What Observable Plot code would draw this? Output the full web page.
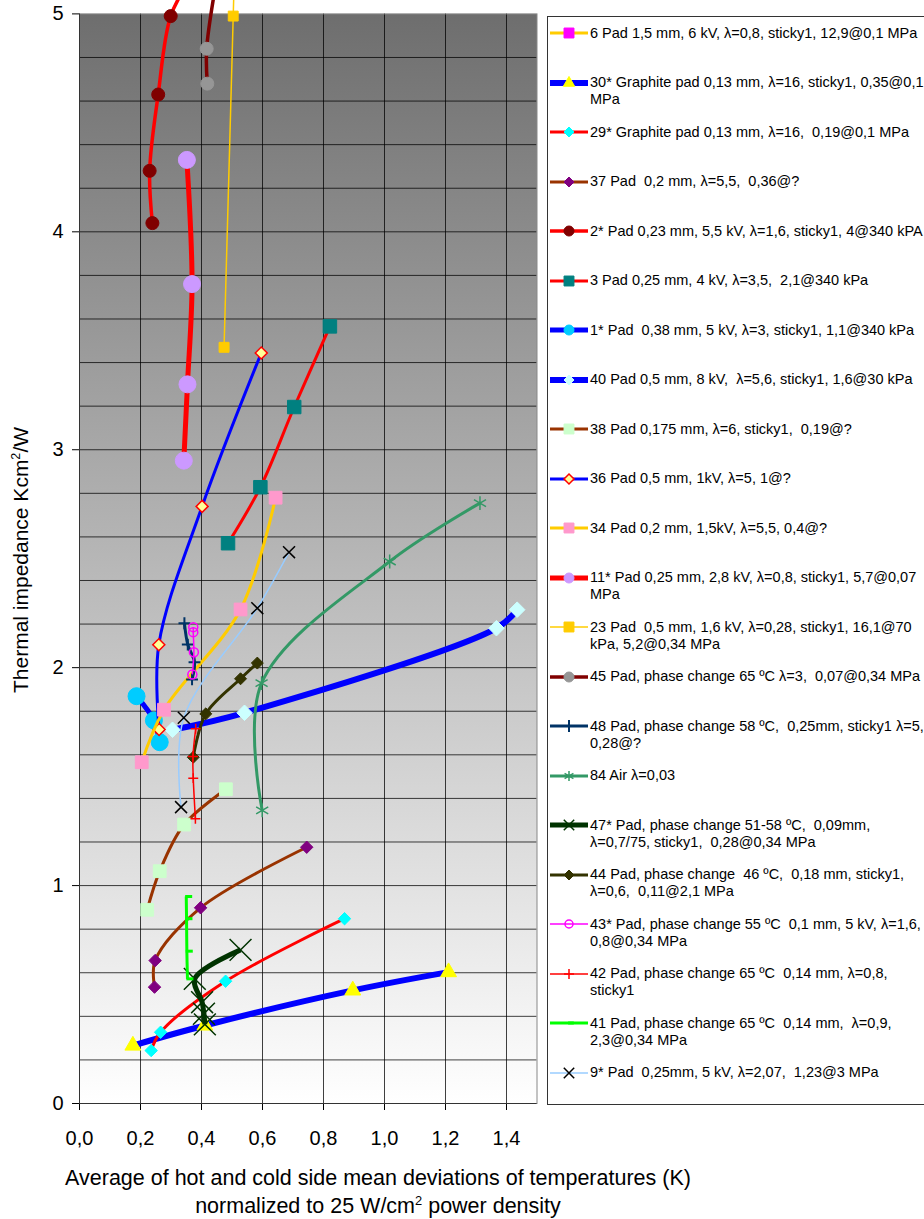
<!DOCTYPE html>
<html>
<head>
<meta charset="utf-8">
<script src="https://cdn.jsdelivr.net/npm/d3@7"></script>
<script src="https://cdn.jsdelivr.net/npm/@observablehq/plot@0.6"></script>
<style>
  body { margin: 0; background: #fff; font-family: "Liberation Sans", Arial, sans-serif; }
  #chart { position: relative; width: 924px; height: 1219px; overflow: hidden; background: #fff; }
  #plot { position: absolute; left: 0; top: 0; }
  .sup { font-size: 0.6em; vertical-align: 0.65em; line-height: 0; }
  #ytitle { position: absolute; left: 21px; top: 560px; transform: translate(-50%, -50%) rotate(-90deg);
            white-space: nowrap; font-size: 21px; color: #000; }
  #xtitle { position: absolute; left: 378px; top: 1164px; transform: translateX(-50%); text-align: center;
            font-size: 21.5px; line-height: 28px; white-space: nowrap; color: #000; }
  #legendbox { position: absolute; left: 547px; top: 16px; width: 400px; height: 1089px;
               border: 1.5px solid #333; box-sizing: border-box; }
  .ltext { position: absolute; left: 590px; font-size: 14.5px; line-height: 17px; white-space: pre; color: #000; }
  .lsw { position: absolute; left: 547px; }
</style>
</head>
<body>
<div id="chart">
  <div id="plot"></div>
  <div id="ytitle">Thermal impedance Kcm<span class="sup">2</span>/W</div>
  <div id="xtitle">Average of hot and cold side mean deviations of temperatures (K)<br>normalized to 25 W/cm<span class="sup">2</span> power density</div>
  <div id="legendbox"></div>
</div>
<script>
// Axis ticks and grid positions
const xTicks = [0, 0.2, 0.4, 0.6, 0.8, 1.0, 1.2, 1.4];
const yTicks = [0, 1, 2, 3, 4, 5];
const xGrid = [0.2, 0.4, 0.6, 0.8, 1.0, 1.2, 1.4];
const yGrid = [0.2, 0.4, 0.6, 0.8, 1.0, 1.2, 1.4, 1.6, 1.8, 2.0, 2.2, 2.4, 2.6, 2.8,
               3.0, 3.2, 3.4, 3.6, 3.8, 4.0, 4.2, 4.4, 4.6, 4.8];

// Measured series: x = temperature deviation (K), y = thermal impedance (Kcm²/W)
// Series 6 lies entirely above the 0–5 range shown.
const pad6X = [];                                   const pad6Y = [];
const pad30X = [0.175, 0.411, 0.896, 1.210];        const pad30Y = [0.266, 0.358, 0.519, 0.603];
const pad29X = [0.235, 0.266, 0.479, 0.869];        const pad29Y = [0.243, 0.327, 0.561, 0.848];
const pad37X = [0.246, 0.248, 0.397, 0.745];        const pad37Y = [0.534, 0.656, 0.898, 1.176];
const pad2X  = [0.239, 0.230, 0.258, 0.299, 0.360]; const pad2Y  = [4.04, 4.28, 4.63, 4.99, 5.15];
const pad3X  = [0.487, 0.593, 0.704, 0.821];        const pad3Y  = [2.571, 2.828, 3.196, 3.566];
const pad1X  = [0.187, 0.244, 0.263];               const pad1Y  = [1.869, 1.758, 1.658];
const pad40X = [0.305, 0.541, 1.367, 1.435];        const pad40Y = [1.715, 1.793, 2.181, 2.266];
const pad38X = [0.222, 0.263, 0.343, 0.480];        const pad38Y = [0.889, 1.066, 1.280, 1.442];
const pad36X = [0.261, 0.260, 0.402, 0.596];        const pad36Y = [1.716, 2.105, 2.740, 3.444];
const pad34X = [0.204, 0.277, 0.528, 0.643];        const pad34Y = [1.566, 1.807, 2.267, 2.780];
const pad11X = [0.352, 0.369, 0.354, 0.342];        const pad11Y = [4.33, 3.76, 3.30, 2.95];
const pad23X = [0.474, 0.504, 0.508];               const pad23Y = [3.47, 4.99, 5.20];
const pad45X = [0.419, 0.417, 0.455];               const pad45Y = [4.68, 4.84, 5.20];
const pad48X = [0.344, 0.355, 0.377, 0.369];        const pad48Y = [2.204, 2.106, 2.025, 1.946];
const air84X = [0.599, 0.597, 1.017, 1.313];        const air84Y = [1.345, 1.929, 2.487, 2.755];
const pad47X = [0.528, 0.378, 0.402, 0.408, 0.411]; const pad47Y = [0.705, 0.572, 0.465, 0.412, 0.363];
const pad44X = [0.373, 0.414, 0.528, 0.583];        const pad44Y = [1.589, 1.788, 1.949, 2.021];
const pad43X = [0.373, 0.373, 0.375, 0.370];        const pad43Y = [2.186, 2.163, 2.071, 1.969];
const pad42X = [0.380, 0.373, 0.372, 0.381];        const pad42Y = [1.307, 1.493, 1.592, 1.720];
const pad41X = [0.350, 0.351, 0.352, 0.354];        const pad41Y = [0.950, 0.848, 0.699, 0.572];
const pad9X  = [0.333, 0.342, 0.583, 0.687];        const pad9Y  = [1.360, 1.770, 2.273, 2.530];

// Legend texts (one entry per series, line breaks as laid out)
const legendLabels = [
  "6 Pad 1,5 mm, 6 kV, λ=0,8, sticky1, 12,9@0,1 MPa",
  "30* Graphite pad 0,13 mm, λ=16, sticky1, 0,35@0,1\nMPa",
  "29* Graphite pad 0,13 mm, λ=16,  0,19@0,1 MPa",
  "37 Pad  0,2 mm, λ=5,5,  0,36@?",
  "2* Pad 0,23 mm, 5,5 kV, λ=1,6, sticky1, 4@340 kPA",
  "3 Pad 0,25 mm, 4 kV, λ=3,5,  2,1@340 kPa",
  "1* Pad  0,38 mm, 5 kV, λ=3, sticky1, 1,1@340 kPa",
  "40 Pad 0,5 mm, 8 kV,  λ=5,6, sticky1, 1,6@30 kPa",
  "38 Pad 0,175 mm, λ=6, sticky1,  0,19@?",
  "36 Pad 0,5 mm, 1kV, λ=5, 1@?",
  "34 Pad 0,2 mm, 1,5kV, λ=5,5, 0,4@?",
  "11* Pad 0,25 mm, 2,8 kV, λ=0,8, sticky1, 5,7@0,07\nMPa",
  "23 Pad  0,5 mm, 1,6 kV, λ=0,28, sticky1, 16,1@70\nkPa, 5,2@0,34 MPa",
  "45 Pad, phase change 65 ºC λ=3,  0,07@0,34 MPa",
  "48 Pad, phase change 58 ºC,  0,25mm, sticky1 λ=5,\n0,28@?",
  "84 Air λ=0,03",
  "47* Pad, phase change 51-58 ºC,  0,09mm,\nλ=0,7/75, sticky1,  0,28@0,34 MPa",
  "44 Pad, phase change  46 ºC,  0,18 mm, sticky1,\nλ=0,6,  0,11@2,1 MPa",
  "43* Pad, phase change 55 ºC  0,1 mm, 5 kV, λ=1,6,\n0,8@0,34 MPa",
  "42 Pad, phase change 65 ºC  0,14 mm, λ=0,8,\nsticky1",
  "41 Pad, phase change 65 ºC  0,14 mm,  λ=0,9,\n2,3@0,34 MPa",
  "9* Pad  0,25mm, 5 kV, λ=2,07,  1,23@3 MPa"
];

// Short horizontal dash marker
const dashSymbol = {
  draw(ctx, size) {
    const r = Math.sqrt(size / Math.PI);
    ctx.moveTo(-0.3 * r, 0);
    ctx.lineTo(1.6 * r, 0);
  }
};

// Line and marker styles, in drawing order
const styles = [
  {xs: pad6X,  ys: pad6Y,  line: "#ffcc00", lw: 3,   symbol: "square",   r: 6,    lr: 5.6, fill: "#ff00ff", stroke: "#ff00ff", sw: 1},
  {xs: pad30X, ys: pad30Y, line: "#0000ff", lw: 6,   symbol: "triangle", r: 5.9,  lr: 4.2, fill: "#ffff00", stroke: "#ffff00", sw: 1},
  {xs: pad29X, ys: pad29Y, line: "#ff0000", lw: 3,   symbol: "diamond2", r: 5.6,  lr: 4.5, fill: "#00ffff", stroke: "#00ffff", sw: 1},
  {xs: pad37X, ys: pad37Y, line: "#993300", lw: 3,   symbol: "diamond2", r: 5.6,  lr: 4.5, fill: "#800080", stroke: "#800080", sw: 1},
  {xs: pad2X,  ys: pad2Y,  line: "#ff0000", lw: 3.5, symbol: "circle",   r: 6.5,  lr: 5,   fill: "#800000", stroke: "#800000", sw: 1},
  {xs: pad3X,  ys: pad3Y,  line: "#ff0000", lw: 3,   symbol: "square",   r: 7.6,  lr: 5.6, fill: "#008080", stroke: "#008080", sw: 1},
  {xs: pad1X,  ys: pad1Y,  line: "#0000ff", lw: 5,   symbol: "circle",   r: 8.5,  lr: 5,   fill: "#00ccff", stroke: "#00ccff", sw: 1},
  {xs: pad40X, ys: pad40Y, line: "#0000ff", lw: 6,   symbol: "diamond2", r: 7,    lr: 4.5, fill: "#ccffff", stroke: "#ccffff", sw: 1},
  {xs: pad38X, ys: pad38Y, line: "#993300", lw: 3,   symbol: "square",   r: 7.2,  lr: 5.6, fill: "#ccffcc", stroke: "#ccffcc", sw: 1},
  {xs: pad36X, ys: pad36Y, line: "#0000ff", lw: 3,   symbol: "diamond2", r: 5.4,  lr: 4.5, fill: "#ffff99", stroke: "#ff0000", sw: 1.5},
  {xs: pad34X, ys: pad34Y, line: "#ffcc00", lw: 3,   symbol: "square",   r: 7.2,  lr: 5.6, fill: "#ff99cc", stroke: "#ff99cc", sw: 1},
  {xs: pad11X, ys: pad11Y, line: "#ff0000", lw: 5,   symbol: "circle",   r: 8.5,  lr: 5,   fill: "#cc99ff", stroke: "#cc99ff", sw: 1},
  {xs: pad23X, ys: pad23Y, line: "#ffcc00", lw: 1.5, symbol: "square",   r: 5.6,  lr: 5.6, fill: "#ffcc00", stroke: "#ffcc00", sw: 1},
  {xs: pad45X, ys: pad45Y, line: "#800000", lw: 3.5, symbol: "circle",   r: 6.5,  lr: 5,   fill: "#969696", stroke: "#969696", sw: 1},
  {xs: pad48X, ys: pad48Y, line: "#003366", lw: 3,   symbol: "plus",     r: 3.9,  lr: 3.9, fill: "none",    stroke: "#003366", sw: 2},
  {xs: air84X, ys: air84Y, line: "#339966", lw: 3,   symbol: "asterisk", r: 6.6,  lr: 4.8, fill: "none",    stroke: "#339966", sw: 1.5},
  {xs: pad47X, ys: pad47Y, line: "#003300", lw: 5,   symbol: "times",    r: 10,   lr: 4.8, fill: "none",    stroke: "#003300", sw: 1.5},
  {xs: pad44X, ys: pad44Y, line: "#333300", lw: 3,   symbol: "diamond2", r: 5.4,  lr: 4.5, fill: "#333300", stroke: "#333300", sw: 1},
  {xs: pad43X, ys: pad43Y, line: "#ff00ff", lw: 1.5, symbol: "circle",   r: 4.5,  lr: 4,   fill: "none",    stroke: "#ff00ff", sw: 1.5},
  {xs: pad42X, ys: pad42Y, line: "#ff0000", lw: 1.5, symbol: "plus",     r: 3.3,  lr: 3.3, fill: "none",    stroke: "#ff0000", sw: 1.5},
  {xs: pad41X, ys: pad41Y, line: "#00ff00", lw: 3,   symbol: dashSymbol, r: 3.7,  lr: 3,   fill: "none",    stroke: "#00ff00", sw: 3},
  {xs: pad9X,  ys: pad9Y,  line: "#99ccff", lw: 1.5, symbol: "times",    r: 5.5,  lr: 4.8, fill: "none",    stroke: "#000000", sw: 1.5}
];

const rowsOf = s => s.xs.map((x, i) => ({x, y: s.ys[i]}));

// Vertical grey-to-white gradient for the plotting area
const backgroundDefs = () => {
  const defs = document.createElementNS("http://www.w3.org/2000/svg", "defs");
  defs.innerHTML =
    '<linearGradient id="plotbg" x1="0" y1="0" x2="0" y2="1">' +
    '<stop offset="0" stop-color="#6e6e6e"/><stop offset="1" stop-color="#ffffff"/></linearGradient>';
  return defs;
};

const seriesMarks = styles.flatMap(s => {
  const rows = rowsOf(s);
  return [
    Plot.line(rows, {x: "x", y: "y", stroke: s.line, strokeWidth: s.lw, curve: "catmull-rom",
                     strokeLinejoin: "round", strokeLinecap: "butt"}),
    Plot.dot(rows, {x: "x", y: "y", symbol: s.symbol, r: s.r, fill: s.fill, stroke: s.stroke, strokeWidth: s.sw})
  ];
});

const chart = Plot.plot({
  width: 540,
  height: 1150,
  marginLeft: 79,
  marginRight: 3.5,
  marginTop: 13.4,
  marginBottom: 47,
  style: {fontSize: "20px", fontFamily: "'Liberation Sans', Arial, sans-serif", color: "#000", background: "#fff"},
  x: {domain: [0, 1.5], ticks: xTicks, tickSize: 7, tickPadding: 20, label: null,
      tickFormat: d => d.toFixed(1).replace(".", ",")},
  y: {domain: [0, 5], ticks: yTicks, tickSize: 7, tickPadding: 9, label: null, tickFormat: d => String(d)},
  marks: [
    backgroundDefs,
    Plot.frame({fill: "url(#plotbg)", stroke: null}),
    Plot.ruleX(xGrid, {stroke: "#000", strokeOpacity: 0.75}),
    Plot.ruleY(yGrid, {stroke: "#000", strokeOpacity: 0.75}),
    Plot.frame({stroke: "#888", fill: "none"}),
    Plot.ruleX([0], {stroke: "#333"}),
    Plot.ruleY([0], {stroke: "#333"}),
    ...seriesMarks
  ]
});
document.getElementById("plot").appendChild(chart);

// Legend: swatch line with marker, then the label text
const symbolTypes = {
  square: d3.symbolSquare, triangle: d3.symbolTriangle, diamond2: d3.symbolDiamond2, circle: d3.symbolCircle,
  plus: d3.symbolPlus, times: d3.symbolTimes, asterisk: d3.symbolAsterisk
};
const holder = d3.select("#chart");
styles.forEach((s, i) => {
  const yc = 33.3 + 49.5 * i;
  const sw = holder.append("svg").attr("class", "lsw")
    .attr("width", 44).attr("height", 20).style("top", (yc - 10) + "px");
  sw.append("line").attr("x1", 3).attr("x2", 41).attr("y1", 10).attr("y2", 10)
    .attr("stroke", s.line).attr("stroke-width", s.lw);
  const type = typeof s.symbol === "string" ? symbolTypes[s.symbol] : s.symbol;
  sw.append("path")
    .attr("transform", "translate(22,10)")
    .attr("d", d3.symbol(type, Math.PI * s.lr * s.lr)())
    .attr("fill", s.fill).attr("stroke", s.stroke).attr("stroke-width", s.sw);
  holder.append("div").attr("class", "ltext")
    .style("top", (yc - 8.5) + "px")
    .text(legendLabels[i]);
});
</script>
</body>
</html>
